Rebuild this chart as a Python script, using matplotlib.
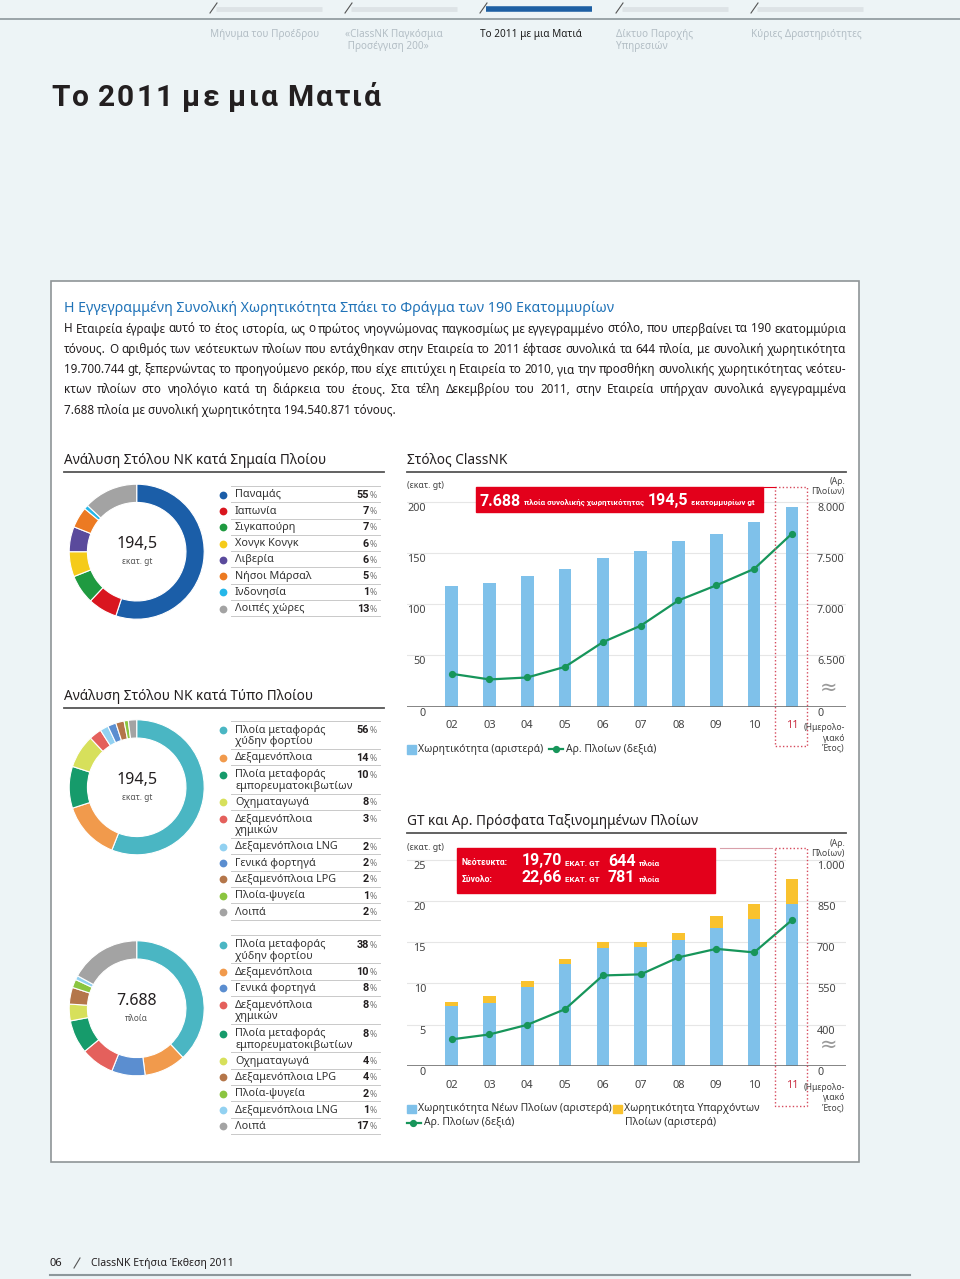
import numpy as np
import matplotlib
matplotlib.use("Agg")
import matplotlib.pyplot as plt
from matplotlib.patches import Rectangle
from matplotlib.transforms import blended_transform_factory, offset_copy

W, H = 960, 1279

# ---- data -------------------------------------------------------------
YEARS = ["02", "03", "04", "05", "06", "07", "08", "09", "10", "11"]

# ClassNK fleet: gross tonnage (million gt, left) and number of ships (right)
FLEET_GT = [117.7, 121.0, 127.2, 134.6, 144.7, 152.2, 161.6, 168.8, 179.8, 194.5]
FLEET_SHIPS = [6321, 6266, 6285, 6389, 6630, 6790, 7037, 7184, 7344, 7688]
FLEET_LEFT_TICKS = [0, 50, 100, 150, 200]
FLEET_RIGHT_TICKS = [6000, 6500, 7000, 7500, 8000]
FLEET_RIGHT_LABELS = ["0", "6.500", "7.000", "7.500", "8.000"]

# newly classed ships: new gt, existing gt (million gt, left), ships (right)
NEW_GT = [7.25, 7.65, 9.60, 12.39, 14.33, 14.37, 15.30, 16.68, 17.77, 19.70]
EXIST_GT = [0.48, 0.77, 0.68, 0.61, 0.65, 0.61, 0.85, 1.50, 1.87, 2.96]
NEW_SHIPS = [346, 364, 399, 456, 579, 583, 645, 676, 663, 781]
NEW_LEFT_TICKS = [0, 5, 10, 15, 20, 25]
NEW_RIGHT_TICKS = [250, 400, 550, 700, 850, 1000]
NEW_RIGHT_LABELS = ["0", "400", "550", "700", "850", "1.000"]

FLAG_LABELS = ["Παναμάς", "Ιαπωνία", "Σιγκαπούρη", "Χονγκ Κονγκ", "Λιβερία",
               "Νήσοι Μάρσαλ", "Ινδονησία", "Λοιπές χώρες"]
FLAG_PCT = [55, 7, 7, 6, 6, 5, 1, 13]

TYPE_GT_LABELS = ["Πλοία μεταφοράς\nχύδην φορτίου", "Δεξαμενόπλοια",
                  "Πλοία μεταφοράς\nεμπορευματοκιβωτίων", "Οχηματαγωγά",
                  "Δεξαμενόπλοια\nχημικών", "Δεξαμενόπλοια LNG", "Γενικά φορτηγά",
                  "Δεξαμενόπλοια LPG", "Πλοία-ψυγεία", "Λοιπά"]
TYPE_GT_PCT = [56, 14, 10, 8, 3, 2, 2, 2, 1, 2]

TYPE_NUM_LABELS = ["Πλοία μεταφοράς\nχύδην φορτίου", "Δεξαμενόπλοια", "Γενικά φορτηγά",
                   "Δεξαμενόπλοια\nχημικών", "Πλοία μεταφοράς\nεμπορευματοκιβωτίων",
                   "Οχηματαγωγά", "Δεξαμενόπλοια LPG", "Πλοία-ψυγεία",
                   "Δεξαμενόπλοια LNG", "Λοιπά"]
TYPE_NUM_PCT = [38, 10, 8, 8, 8, 4, 4, 2, 1, 17]

PARAGRAPH = [
    "Η Εταιρεία έγραψε αυτό το έτος ιστορία, ως ο πρώτος νηογνώμονας παγκοσμίως με εγγεγραμμένο στόλο, που υπερβαίνει τα 190 εκατομμύρια",
    "τόνους. Ο αριθμός των νεότευκτων πλοίων που εντάχθηκαν στην Εταιρεία το 2011 έφτασε συνολικά τα 644 πλοία, με συνολική χωρητικότητα",
    "19.700.744 gt, ξεπερνώντας το προηγούμενο ρεκόρ, που είχε επιτύχει η Εταιρεία το 2010, για την προσθήκη συνολικής χωρητικότητας νεότευ-",
    "κτων πλοίων στο νηολόγιο κατά τη διάρκεια του έτους. Στα τέλη Δεκεμβρίου του 2011, στην Εταιρεία υπήρχαν συνολικά εγγεγραμμένα",
    "7.688 πλοία με συνολική χωρητικότητα 194.540.871 τόνους.",
]

NAV_TABS = [["Μήνυμα του Προέδρου"], ["«ClassNK Παγκόσμια", " Προσέγγιση 200»"],
            ["Το 2011 με μια Ματιά"], ["Δίκτυο Παροχής", "Υπηρεσιών"],
            ["Κύριες Δραστηριότητες"]]

# ---- styles -----------------------------------------------------------
BAR_BLUE = "#7fc1ea"
BAR_YELLOW = "#f9c22e"
LINE_GREEN = "#17955a"
RED = "#e3001b"
DOT_RED = "#d64a5c"
GRID = "#e6e6e6"
TXT = "#231f20"
GREY_TXT = "#444444"
BOLD = ["Roboto", "DejaVu Sans"]

FLAG_COLORS = ["#1b5ea8", "#d9161f", "#1f9a40", "#f5cb1a", "#5a4a9c",
               "#ec7a22", "#25b7e9", "#a3a3a3"]
TYPE_COLORS = {
    "Πλοία μεταφοράς\nχύδην φορτίου": "#4ab6c3",
    "Δεξαμενόπλοια": "#f19a4c",
    "Πλοία μεταφοράς\nεμπορευματοκιβωτίων": "#169b6b",
    "Οχηματαγωγά": "#d7e05b",
    "Δεξαμενόπλοια\nχημικών": "#e4605c",
    "Δεξαμενόπλοια LNG": "#92d1f1",
    "Γενικά φορτηγά": "#5b8ed0",
    "Δεξαμενόπλοια LPG": "#b4764a",
    "Πλοία-ψυγεία": "#8bc540",
    "Λοιπά": "#a3a3a3",
}

plt.rcParams["font.family"] = ["Noto Sans", "DejaVu Sans"]


def px_axes(fig, x0, y0, x1, y1, zorder=1):
    return fig.add_axes([x0 / W, 1 - y1 / H, (x1 - x0) / W, (y1 - y0) / H], zorder=zorder)


def text_width(fig, fg, s, **kw):
    t = fg.text(0, 0, s, **kw)
    w = t.get_window_extent(fig.canvas.get_renderer()).width
    t.remove()
    return w


def text_runs(fig, fg, x, y, runs, gap=3):
    # white bold pieces on the red boxes, laid one after another on a baseline
    for txt, fs in runs:
        fg.text(x, y, txt, fontsize=fs, family=BOLD, fontweight="bold",
                color="white", ha="left", va="baseline", zorder=4)
        x += text_width(fig, fg, txt, fontsize=fs, family=BOLD, fontweight="bold") + gap


def section_title(fg, text, x0, x1, y, line_y):
    fg.text(x0, y, text, fontsize=9.8, color=TXT, ha="left", va="center")
    fg.plot([x0, x1], [line_y, line_y], color="#555555", lw=1.3)


def draw_header(fig, fg):
    fg.plot([0, W], [19.3, 19.3], color="#8c979b", lw=1.2)
    xs = [210, 345, 480, 616, 751]
    for i, (x0, lines) in enumerate(zip(xs, NAV_TABS)):
        active = i == 2
        fg.plot([x0, x0 + 7], [13, 3], color="#555555", lw=0.8)
        fg.plot([x0 + 6, x0 + 112], [9, 9], lw=4 if active else 3.5,
                color="#1d5fa3" if active else "#dde3e6", solid_capstyle="butt")
        for k, line in enumerate(lines):
            fg.text(x0, 34 + 13 * k, line, fontsize=7.2, ha="left", va="center",
                    color="#1e1e1e" if active else "#b3bec5")

    # page title with a little letter spacing
    x = 51
    style = dict(fontsize=21.5, family=BOLD, fontweight="bold")
    for ch in "Το 2011 με μια Ματιά":
        if ch == " ":
            x += 7
            continue
        fg.text(x, 106, ch, color=TXT, ha="left", va="baseline", **style)
        x += text_width(fig, fg, ch, **style) + 2.2


def draw_paragraph(fig, fg):
    fg.text(64, 308, "Η Εγγεγραμμένη Συνολική Χωρητικότητα Σπάει το Φράγμα των 190 Εκατομμυρίων",
            fontsize=10.2, color="#2073b8", ha="left", va="center")
    x0, x1 = 64, 846
    widest = max(text_width(fig, fg, line, fontsize=9) for line in PARAGRAPH[:-1])
    fs = min(9, 9 * (x1 - x0) / widest)
    for i, line in enumerate(PARAGRAPH):
        y = 332.5 + 20.3 * i
        if i == len(PARAGRAPH) - 1:
            fg.text(x0, y, line, fontsize=fs, color=TXT, ha="left", va="baseline")
            continue
        words = line.split()
        widths = [text_width(fig, fg, w, fontsize=fs) for w in words]
        gap = (x1 - x0 - sum(widths)) / (len(words) - 1)
        x = x0
        for w, wd in zip(words, widths):
            fg.text(x, y, w, fontsize=fs, color=TXT, ha="left", va="baseline")
            x += wd + gap


def draw_donut(fig, fg, cx, cy, values, colors, big, small):
    r = 67.5 * 1.02
    ax = px_axes(fig, cx - r, cy - r, cx + r, cy + r, zorder=2)
    ax.pie(values, colors=colors, startangle=90, counterclock=False, radius=1,
           wedgeprops=dict(width=0.27, edgecolor="white", linewidth=0.8))
    ax.set_xlim(-1.02, 1.02)
    ax.set_ylim(-1.02, 1.02)
    fg.text(cx, cy - 7.5, big, fontsize=11.5, color=TXT, ha="center", va="center")
    fg.text(cx, cy + 10, small, fontsize=6, color="#555555", ha="center", va="center")


def draw_legend(fg, labels, pcts, colors, top):
    y = top
    fg.plot([231, 380], [y, y], color="#c9c9c9", lw=0.7)
    for lab, p, c in zip(labels, pcts, colors):
        parts = lab.split("\n")
        yc = y + (8.7 if len(parts) == 1 else 9.6)
        fg.plot(223, yc, "o", ms=5.6, color=c, mec="none")
        for k, part in enumerate(parts):
            fg.text(235, yc + 11.5 * k, part, fontsize=7.8, color="#333333",
                    ha="left", va="center")
        fg.text(369, yc, str(p), fontsize=7.8, family=BOLD, fontweight="bold", color=TXT,
                ha="right", va="center")
        fg.text(370, yc + 0.5, "%", fontsize=6.3, color="#777777", ha="left", va="center")
        y += 16.3 if len(parts) == 1 else 28.3
        fg.plot([231, 380], [y, y], color="#c9c9c9", lw=0.7)


def axis_labels(fig, fg, ax, ax2, left_ticks, right_ticks, right_labels):
    lt = offset_copy(blended_transform_factory(fg.transData, ax.transData), fig=fig, y=-6.5, units="dots")
    rt = offset_copy(blended_transform_factory(fg.transData, ax2.transData), fig=fig, y=-6.5, units="dots")
    for v in left_ticks:
        fg.text(426, v, str(v), transform=lt, fontsize=7.8, color=GREY_TXT, ha="right", va="center")
    for v, lab in zip(right_ticks, right_labels):
        fg.text(817, v, lab, transform=rt, fontsize=7.8, color=GREY_TXT, ha="left", va="center")


def year_labels(fg, ax, y, top_y):
    xt = blended_transform_factory(ax.transData, fg.transData)
    for i, yr in enumerate(YEARS):
        last = i == len(YEARS) - 1
        fg.text(i, y, yr, transform=xt, fontsize=8, color="#c8283c" if last else GREY_TXT,
                ha="center", va="center")
    fg.add_patch(Rectangle((775, top_y), 32, y + 20.5 - top_y, fill=False, ec=DOT_RED,
                           lw=1, ls=(0, (1, 1.6))))
    fg.text(845, y + 2, "(Ημερολο-", fontsize=6.2, color=GREY_TXT, ha="right", va="center")
    fg.text(845, y + 12.5, "γιακό", fontsize=6.2, color=GREY_TXT, ha="right", va="center")
    fg.text(845, y + 22.5, "Έτος)", fontsize=6.2, color=GREY_TXT, ha="right", va="center")


def draw_fleet_chart(fig, fg):
    section_title(fg, "Στόλος ClassNK", 407, 846, 460, 472)
    ax = px_axes(fig, 407, 487, 846, 706.7)
    x = np.arange(len(YEARS))
    ax.bar(x, FLEET_GT, width=0.336, color=BAR_BLUE, zorder=2)
    ax.set_xlim(-1.18, 10.43)
    ax.set_ylim(0, 214.3)
    for v in FLEET_LEFT_TICKS[1:]:
        ax.axhline(v, color=GRID, lw=0.8, zorder=1)
    ax.axhline(0, color="#6f6f6f", lw=1.2, zorder=3)
    ax.axis("off")
    ax2 = ax.twinx()
    ax2.set_ylim(6000, 6000 + 10 * 214.3)
    ax2.plot(x, FLEET_SHIPS, color=LINE_GREEN, lw=1.6, marker="o", ms=4.2)
    ax2.axis("off")

    axis_labels(fig, fg, ax, ax2, FLEET_LEFT_TICKS, FLEET_RIGHT_TICKS, FLEET_RIGHT_LABELS)
    fg.text(407, 486, "(εκατ. gt)", fontsize=6.3, color=GREY_TXT, ha="left", va="center")
    fg.text(845, 481.7, "(Αρ.", fontsize=6.3, color=GREY_TXT, ha="right", va="center")
    fg.text(845, 491.7, "Πλοίων)", fontsize=6.3, color=GREY_TXT, ha="right", va="center")
    fg.text(829, 688, "≈", fontsize=15, color="#9a9a9a", ha="center", va="center")
    year_labels(fg, ax, 725.7, 487)

    # red summary box
    fg.add_patch(Rectangle((476, 486.7), 287, 25, color=RED, zorder=3))
    fg.plot([763, 775], [487, 487], color=RED, lw=0.8)
    text_runs(fig, fg, 480, 505.5, [("7.688", 11.5), ("πλοία συνολικής χωρητικότητας", 5.8),
                                    ("194,5", 11.5), ("εκατομμυρίων gt", 5.8)])

    # legend
    fg.add_patch(Rectangle((407, 745), 8.5, 8.5, color=BAR_BLUE))
    fg.text(418, 749.3, "Χωρητικότητα (αριστερά)", fontsize=7.5, color="#333333", va="center")
    fg.plot([549, 563], [749.3, 749.3], color=LINE_GREEN, lw=1.6)
    fg.plot(556, 749.3, "o", ms=4.2, color=LINE_GREEN)
    fg.text(566, 749.3, "Αρ. Πλοίων (δεξιά)", fontsize=7.5, color="#333333", va="center")


def draw_new_chart(fig, fg):
    section_title(fg, "GT και Αρ. Πρόσφατα Ταξινομημένων Πλοίων", 407, 846, 821.7, 833.3)
    ax = px_axes(fig, 407, 848.3, 846, 1065.7)
    x = np.arange(len(YEARS))
    ax.bar(x, NEW_GT, width=0.336, color=BAR_BLUE, zorder=2)
    ax.bar(x, EXIST_GT, width=0.336, bottom=NEW_GT, color=BAR_YELLOW, zorder=2)
    ax.set_xlim(-1.18, 10.43)
    ax.set_ylim(0, 26.42)
    for v in NEW_LEFT_TICKS[1:]:
        ax.axhline(v, color=GRID, lw=0.8, zorder=1)
    ax.axhline(0, color="#6f6f6f", lw=1.2, zorder=3)
    ax.axis("off")
    ax2 = ax.twinx()
    ax2.set_ylim(250, 250 + 30 * 26.42)
    ax2.plot(x, NEW_SHIPS, color=LINE_GREEN, lw=1.6, marker="o", ms=4.2)
    ax2.axis("off")

    axis_labels(fig, fg, ax, ax2, NEW_LEFT_TICKS, NEW_RIGHT_TICKS, NEW_RIGHT_LABELS)
    fg.text(407, 847.7, "(εκατ. gt)", fontsize=6.3, color=GREY_TXT, ha="left", va="center")
    fg.text(845, 843.3, "(Αρ.", fontsize=6.3, color=GREY_TXT, ha="right", va="center")
    fg.text(845, 853.3, "Πλοίων)", fontsize=6.3, color=GREY_TXT, ha="right", va="center")
    fg.text(829, 1045, "≈", fontsize=15, color="#9a9a9a", ha="center", va="center")
    year_labels(fg, ax, 1085, 848)

    fg.add_patch(Rectangle((457, 848.3), 258, 44.4, color=RED, zorder=3))
    fg.plot([720, 772], [848, 848], color="#d9a0aa", lw=0.8)
    for y, name, gt, ships in [(865.5, "Νεότευκτα:", "19,70", "644"), (882, "Σύνολο:", "22,66", "781")]:
        text_runs(fig, fg, 462, y - 0.5, [(name, 6.2)])
        text_runs(fig, fg, 521.5, y, [(gt, 11.5), ("ΕΚΑΤ. GT", 5.8)])
        text_runs(fig, fg, 608, y, [(ships, 11.5), ("πλοία", 5.8)])

    fg.add_patch(Rectangle((407, 1104.7), 8.5, 8.5, color=BAR_BLUE))
    fg.text(418, 1109, "Χωρητικότητα Νέων Πλοίων (αριστερά)", fontsize=7.5, color="#333333", va="center")
    fg.add_patch(Rectangle((613, 1104.7), 8.5, 8.5, color=BAR_YELLOW))
    fg.text(624.5, 1109, "Χωρητικότητα Υπαρχόντων", fontsize=7.5, color="#333333", va="center")
    fg.text(625, 1122.7, "Πλοίων (αριστερά)", fontsize=7.5, color="#333333", va="center")
    fg.plot([407, 421], [1122.7, 1122.7], color=LINE_GREEN, lw=1.6)
    fg.plot(413, 1122.7, "o", ms=4.2, color=LINE_GREEN)
    fg.text(424, 1122.7, "Αρ. Πλοίων (δεξιά)", fontsize=7.5, color="#333333", va="center")


def main():
    fig = plt.figure(figsize=(W / 100, H / 100), dpi=100)
    fig.patch.set_facecolor("#edf4f6")
    bg = px_axes(fig, 0, 0, W, H, zorder=0)
    fg = px_axes(fig, 0, 0, W, H, zorder=10)
    for a in (bg, fg):
        a.set_xlim(0, W)
        a.set_ylim(H, 0)
        a.axis("off")

    bg.add_patch(Rectangle((50.5, 280.5), 808.5, 881, fc="white", ec="#8f9597", lw=1.2))

    draw_header(fig, fg)
    draw_paragraph(fig, fg)

    section_title(fg, "Ανάλυση Στόλου ΝΚ κατά Σημαία Πλοίου", 64, 384, 460, 472)
    draw_donut(fig, fg, 136.7, 551.7, FLAG_PCT, FLAG_COLORS, "194,5", "εκατ. gt")
    draw_legend(fg, FLAG_LABELS, FLAG_PCT, FLAG_COLORS, 486)

    section_title(fg, "Ανάλυση Στόλου ΝΚ κατά Τύπο Πλοίου", 64, 384, 696.7, 707.5)
    gt_colors = [TYPE_COLORS[k] for k in TYPE_GT_LABELS]
    draw_donut(fig, fg, 136.7, 787.3, TYPE_GT_PCT, gt_colors, "194,5", "εκατ. gt")
    draw_legend(fg, TYPE_GT_LABELS, TYPE_GT_PCT, gt_colors, 720.7)

    num_colors = [TYPE_COLORS[k] for k in TYPE_NUM_LABELS]
    draw_donut(fig, fg, 136.7, 1008.3, TYPE_NUM_PCT, num_colors, "7.688", "πλοία")
    draw_legend(fg, TYPE_NUM_LABELS, TYPE_NUM_PCT, num_colors, 935)

    draw_fleet_chart(fig, fg)
    draw_new_chart(fig, fg)

    # footer
    fg.text(50, 1263.3, "06", fontsize=8, color=TXT, va="center")
    fg.plot([74, 80], [1268, 1258], color="#555555", lw=0.8)
    fg.text(91, 1263.3, "ClassNK Ετήσια Έκθεση 2011", fontsize=7.5, color=TXT, va="center")
    fg.plot([50, 910], [1275.3, 1275.3], color="#8c979b", lw=1.5)

    fig.savefig("out.png", dpi=100, facecolor=fig.get_facecolor())


if __name__ == "__main__":
    main()
